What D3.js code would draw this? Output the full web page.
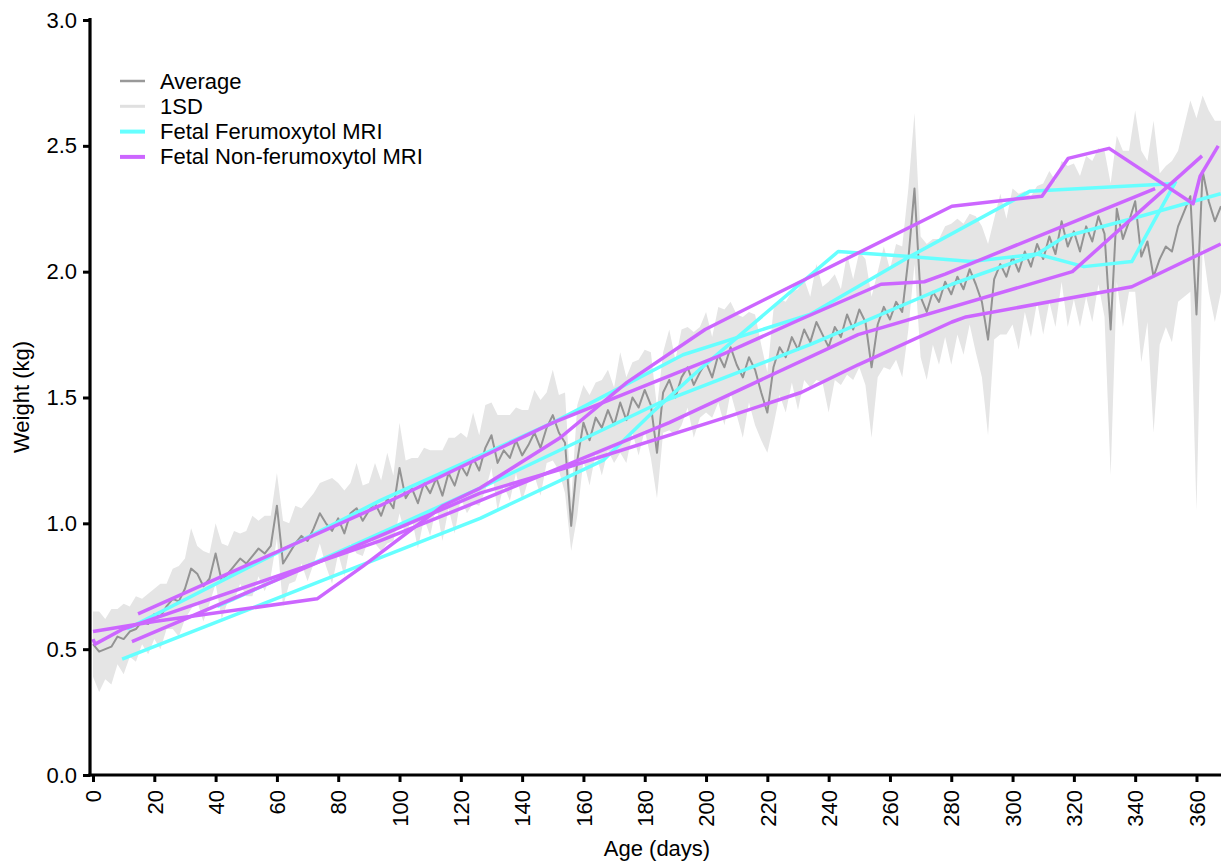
<!DOCTYPE html>
<html><head><meta charset="utf-8">
<script src="https://cdn.jsdelivr.net/npm/d3@7"></script>
<style>
html,body{margin:0;padding:0;background:#fff;}
svg{display:block;font-family:"Liberation Sans",Arial,Helvetica,sans-serif;}
</style></head>
<body>
<svg id="chart" width="1221" height="864"></svg>
<script>
// ---- data ----
const avgAges = d3.range(0, 369, 2); // day grid of the average curve
const avgWeight = [
0.52,0.49,0.50,0.51,0.55,0.54,0.57,0.58,0.61,0.60,
0.64,0.63,0.67,0.70,0.69,0.74,0.82,0.80,0.75,0.78,
0.88,0.77,0.80,0.83,0.86,0.84,0.87,0.90,0.88,0.91,
1.07,0.84,0.88,0.92,0.95,0.93,0.98,1.04,1.00,0.97,
1.02,0.96,1.04,1.06,1.01,1.05,1.08,1.03,1.10,1.06,
1.22,1.10,1.14,1.08,1.16,1.12,1.18,1.11,1.20,1.15,
1.23,1.19,1.26,1.21,1.30,1.35,1.24,1.29,1.26,1.33,
1.27,1.31,1.36,1.30,1.38,1.43,1.36,1.32,0.99,1.25,
1.40,1.33,1.42,1.38,1.45,1.39,1.48,1.41,1.50,1.46,
1.53,1.47,1.28,1.52,1.57,1.50,1.58,1.62,1.55,1.60,
1.64,1.58,1.67,1.62,1.70,1.63,1.58,1.66,1.61,1.52,
1.44,1.62,1.70,1.66,1.74,1.69,1.77,1.72,1.80,1.75,
1.70,1.78,1.74,1.83,1.77,1.85,1.80,1.62,1.79,1.86,
1.81,1.88,1.84,2.05,2.33,1.90,1.84,1.92,1.88,1.96,
1.91,1.98,1.93,2.01,1.95,1.88,1.73,1.97,2.03,1.98,
2.06,2.00,2.08,2.02,2.11,2.05,2.14,2.07,2.20,2.10,
2.16,2.08,2.18,2.12,2.22,2.15,1.77,2.25,2.13,2.20,
2.28,2.06,2.12,1.98,2.05,2.10,2.08,2.18,2.24,2.30,
1.83,2.40,2.28,2.20,2.26
];
const avgSD = [
0.13,0.16,0.12,0.15,0.11,0.14,0.10,0.13,0.09,0.12,
0.10,0.13,0.09,0.12,0.14,0.12,0.16,0.11,0.14,0.10,
0.12,0.15,0.11,0.14,0.10,0.13,0.16,0.11,0.15,0.12,
0.13,0.17,0.12,0.15,0.11,0.16,0.14,0.12,0.17,0.21,
0.14,0.17,0.12,0.18,0.14,0.11,0.16,0.14,0.18,0.13,
0.18,0.15,0.12,0.18,0.14,0.17,0.11,0.18,0.14,0.19,
0.13,0.15,0.18,0.14,0.17,0.13,0.19,0.14,0.17,0.13,
0.18,0.14,0.17,0.19,0.14,0.18,0.15,0.20,0.10,0.22,
0.15,0.18,0.14,0.19,0.16,0.15,0.20,0.17,0.14,0.19,
0.16,0.21,0.18,0.16,0.20,0.15,0.19,0.16,0.21,0.18,
0.20,0.16,0.19,0.23,0.18,0.20,0.24,0.18,0.22,0.19,
0.16,0.23,0.19,0.22,0.18,0.24,0.20,0.18,0.23,0.19,
0.26,0.21,0.19,0.24,0.20,0.23,0.25,0.28,0.21,0.24,
0.20,0.23,0.26,0.28,0.30,0.24,0.27,0.21,0.25,0.22,
0.28,0.23,0.26,0.22,0.27,0.30,0.38,0.24,0.28,0.23,
0.27,0.31,0.24,0.28,0.23,0.30,0.26,0.29,0.24,0.32,
0.27,0.30,0.28,0.32,0.27,0.33,0.58,0.29,0.35,0.28,
0.36,0.42,0.32,0.62,0.34,0.32,0.36,0.30,0.34,0.38,
0.78,0.30,0.36,0.40,0.34
];

// Fetal Ferumoxytol MRI subjects: [age (days), weight (kg)]
const feru1 = [[9.5,0.46],[126.3,1.02],[166.4,1.25],[183.3,1.45],[198.7,1.62],[243.1,2.08],[266.5,2.06],[286.4,2.04],[308.0,2.07],[323.3,2.02],[338.9,2.04],[353.3,2.36]];
const feru2 = [[11.1,0.58],[93.6,1.09],[150.1,1.40],[192.5,1.67],[233.9,1.83],[266.5,2.06],[305.7,2.32],[353.3,2.35]];
const feru3 = [[40.5,0.67],[93.6,0.96],[126.3,1.14],[185.0,1.48],[233.9,1.71],[280.2,1.95],[308.0,2.07],[317.1,2.14],[338.9,2.21],[367.9,2.31]];

// Fetal Non-ferumoxytol MRI subjects
const nonFeru1 = [[0,0.57],[20,0.61],[73.1,0.70],[88.1,0.83],[114.2,1.07],[126.3,1.14],[152.4,1.34],[174.2,1.56],[199.7,1.77],[209.4,1.83],[280.2,2.26],[309.6,2.30],[318.1,2.45],[331.5,2.49],[358.9,2.27],[361.2,2.38],[367.1,2.50]];
const nonFeru2 = [[14.7,0.64],[93.6,1.07],[150.1,1.40],[203.3,1.66],[230.7,1.81],[257.1,1.95],[271.2,1.96],[278.0,1.99],[346.5,2.33]];
const nonFeru3 = [[0,0.54],[0.7,0.52],[9.8,0.58],[93.6,0.93],[126.3,1.09],[188.0,1.40],[249.6,1.75],[319.5,2.00],[361.8,2.46]];
const nonFeru4 = [[12.7,0.53],[93.6,0.95],[126.3,1.12],[154.0,1.22],[206.2,1.42],[231.0,1.52],[249.6,1.63],[280.2,1.80],[284.8,1.82],[338.9,1.94],[367.9,2.11]];

const feruSeries = [feru1, feru2, feru3];
const nonFeruSeries = [nonFeru1, nonFeru2, nonFeru3, nonFeru4];

const xTicks = d3.range(0, 361, 20);
const yTicks = [0, 0.5, 1.0, 1.5, 2.0, 2.5, 3.0];
const legendItems = ["Average", "1SD", "Fetal Ferumoxytol MRI", "Fetal Non-ferumoxytol MRI"];

// ---- chart ----
const svg = d3.select("#chart");
const FONT = 22;
const x = d3.scaleLinear().domain([0, 368]).range([93, 1221]);
const y = d3.scaleLinear().domain([0, 3]).range([775, 20]);

svg.append("defs").append("clipPath").attr("id","clip")
  .append("rect").attr("x", 91).attr("y", 0).attr("width", 1221-91).attr("height", 775);

const plot = svg.append("g").attr("clip-path","url(#clip)");

const avgData = avgAges.map((a,i)=>({a, m:avgWeight[i], s:avgSD[i]}));

plot.append("path").datum(avgData)
  .attr("fill","#e5e5e5")
  .attr("d", d3.area().x(d=>x(d.a)).y0(d=>y(d.m-d.s)).y1(d=>y(d.m+d.s)));

plot.append("path").datum(avgData)
  .attr("fill","none").attr("stroke","#939393").attr("stroke-width",2)
  .attr("stroke-linejoin","round")
  .attr("d", d3.line().x(d=>x(d.a)).y(d=>y(d.m)));

const line = d3.line().x(d=>x(d[0])).y(d=>y(d[1]));
const CYAN = "#66ffff", PURPLE = "#cc66ff";
feruSeries.forEach(s=>{
  plot.append("path").datum(s).attr("fill","none").attr("stroke",CYAN)
    .attr("stroke-width",3.5).attr("stroke-linejoin","round").attr("d",line);
});
nonFeruSeries.forEach(s=>{
  plot.append("path").datum(s).attr("fill","none").attr("stroke",PURPLE)
    .attr("stroke-width",3.5).attr("stroke-linejoin","round").attr("d",line);
});

// axes
const yAxis = d3.axisLeft(y).tickValues(yTicks).tickFormat(d3.format(".1f")).tickSize(7).tickSizeOuter(0).tickPadding(6);
const gy = svg.append("g").attr("transform","translate(90,0)").call(yAxis);
gy.select(".domain").remove();
gy.selectAll(".tick line").attr("stroke","#000").attr("stroke-width",3);
gy.selectAll(".tick text").attr("font-size",FONT).attr("fill","#000")
  .attr("font-family",'"Liberation Sans",Arial,sans-serif');

const xAxis = d3.axisBottom(x).tickValues(xTicks).tickFormat(d3.format("d")).tickSize(7).tickSizeOuter(0);
const gx = svg.append("g").attr("transform","translate(0,775)").call(xAxis);
gx.select(".domain").remove();
gx.selectAll(".tick line").attr("stroke","#000").attr("stroke-width",3);
gx.selectAll(".tick text").attr("font-size",FONT).attr("fill","#000")
  .attr("font-family",'"Liberation Sans",Arial,sans-serif')
  .attr("transform","translate(0,15) rotate(-90)")
  .attr("text-anchor","end").attr("x",0).attr("y",0).attr("dy","0.35em");

svg.append("line").attr("x1",90).attr("x2",90).attr("y1",18).attr("y2",776.5)
  .attr("stroke","#000").attr("stroke-width",3.2);
svg.append("line").attr("x1",88.4).attr("x2",1221).attr("y1",775).attr("y2",775)
  .attr("stroke","#000").attr("stroke-width",3.2);

svg.append("text").attr("transform","translate(29,397) rotate(-90)")
  .attr("text-anchor","middle").attr("font-size",FONT).text("Weight (kg)");
svg.append("text").attr("x",657).attr("y",856)
  .attr("text-anchor","middle").attr("font-size",FONT).text("Age (days)");

// legend
const legColors = ["#999999","#e0e0e0",CYAN,PURPLE];
const legWidths = [2.5,3,4,4];
const leg = svg.append("g");
legendItems.forEach((t,i)=>{
  const yy = 81 + i*25.3;
  leg.append("line").attr("x1",120).attr("x2",145).attr("y1",yy).attr("y2",yy)
    .attr("stroke",legColors[i]).attr("stroke-width",legWidths[i]);
  leg.append("text").attr("x",160).attr("y",yy+7.5).attr("font-size",FONT).text(t);
});
</script>
</body></html>
